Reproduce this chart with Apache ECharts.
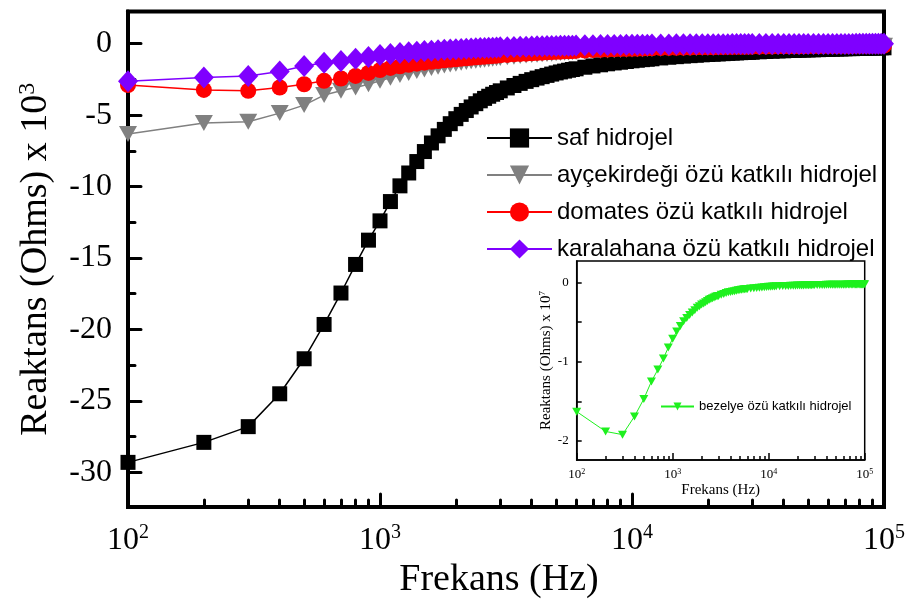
<!DOCTYPE html>
<html>
<head>
<meta charset="utf-8">
<script src="https://cdn.jsdelivr.net/npm/echarts@6/dist/echarts.min.js"></script>
<style>
html, body { margin: 0; padding: 0; background: #fff; }
#chart { width: 908px; height: 604px; }
</style>
</head>
<body>
<div id="chart"></div>
<script>
// Measurement frequencies (Hz)
const freqHz = [
  100, 200, 300, 400, 500, 600, 700, 800, 900, 1000,
  1100, 1200, 1300, 1400, 1500, 1600, 1700, 1800, 1900, 2000,
  2100, 2200, 2300, 2400, 2500, 2600, 2700, 2800, 2900, 3000,
  3200, 3400, 3600, 3800, 4000, 4200, 4400, 4600, 4800, 5000,
  5200, 5400, 5600, 5800, 6000,
  6500, 7000, 7500, 8000, 8500, 9000, 9500, 10000, 10500, 11000, 11500, 12000,
  13000, 14000, 15000, 16000, 17000, 18000, 19000, 20000, 21000, 22000, 23000, 24000, 25000, 26000, 27000, 28000, 29000, 30000,
  32000, 34000, 36000, 38000, 40000, 42000, 44000, 46000, 48000, 50000,
  52500, 55000, 57500, 60000, 62500, 65000, 67500, 70000, 72500, 75000, 77500, 80000, 82500, 85000, 87500, 90000, 92500, 95000, 97500, 100000
];

// Reactance, Ohms x 10^3
const safHidrojel = [
  -29.3, -27.9, -26.8, -24.5, -22.05, -19.65, -17.45, -15.45, -13.75, -12.4,
  -11.05, -9.95, -9.05, -8.25, -7.55, -6.95, -6.45, -6.0, -5.6, -5.25,
  -4.95, -4.68, -4.43, -4.2, -4.0, -3.83, -3.68, -3.54, -3.42, -3.3,
  -3.1, -2.93, -2.78, -2.64, -2.52, -2.41, -2.31, -2.22, -2.13, -2.05,
  -1.98, -1.92, -1.86, -1.81, -1.76,
  -1.65, -1.56, -1.48, -1.41, -1.35, -1.3, -1.25, -1.2, -1.16, -1.12, -1.09, -1.06,
  -1.0, -0.95, -0.91, -0.87, -0.84, -0.81, -0.78, -0.76, -0.74, -0.72, -0.7, -0.68, -0.66, -0.65, -0.63, -0.62, -0.61, -0.6,
  -0.57, -0.55, -0.53, -0.51, -0.5, -0.48, -0.47, -0.46, -0.45, -0.44,
  -0.43, -0.42, -0.41, -0.4, -0.39, -0.38, -0.37, -0.36, -0.35, -0.35, -0.34, -0.33, -0.33, -0.32, -0.31, -0.31, -0.3, -0.3, -0.29, -0.29
];
const aycekirdegi = [
  -6.33, -5.56, -5.47, -4.86, -4.3, -3.6, -3.3, -3.07, -2.84, -2.6,
  -2.38, -2.2, -2.05, -1.92, -1.8, -1.7, -1.61, -1.53, -1.46, -1.4,
  -1.34, -1.29, -1.24, -1.2, -1.16, -1.12, -1.09, -1.06, -1.03, -1.0,
  -0.95, -0.91, -0.87, -0.83, -0.8, -0.77, -0.74, -0.72, -0.7, -0.68,
  -0.66, -0.64, -0.62, -0.61, -0.59,
  -0.56, -0.53, -0.5, -0.48, -0.46, -0.44, -0.43, -0.41, -0.4, -0.39, -0.38, -0.37,
  -0.35, -0.34, -0.33, -0.32, -0.31, -0.3, -0.29, -0.28, -0.28, -0.27, -0.26, -0.26, -0.25, -0.25, -0.24, -0.24, -0.24, -0.23,
  -0.23, -0.22, -0.22, -0.21, -0.21, -0.2, -0.2, -0.2, -0.19, -0.19,
  -0.19, -0.18, -0.18, -0.18, -0.17, -0.17, -0.17, -0.17, -0.16, -0.16, -0.16, -0.16, -0.15, -0.15, -0.15, -0.15, -0.15, -0.14, -0.14, -0.14
];
const domates = [
  -2.9, -3.24, -3.3, -3.07, -2.84, -2.6, -2.44, -2.26, -2.05, -1.85,
  -1.7, -1.58, -1.48, -1.4, -1.33, -1.27, -1.22, -1.17, -1.13, -1.09,
  -1.05, -1.02, -0.99, -0.96, -0.93, -0.91, -0.88, -0.86, -0.84, -0.82,
  -0.79, -0.75, -0.72, -0.7, -0.67, -0.65, -0.63, -0.61, -0.59, -0.57,
  -0.56, -0.54, -0.53, -0.52, -0.5,
  -0.48, -0.45, -0.43, -0.41, -0.4, -0.38, -0.37, -0.36, -0.35, -0.34, -0.33, -0.32,
  -0.31, -0.3, -0.29, -0.28, -0.27, -0.26, -0.26, -0.25, -0.25, -0.24, -0.24, -0.23, -0.23, -0.22, -0.22, -0.22, -0.21, -0.21,
  -0.21, -0.2, -0.2, -0.19, -0.19, -0.19, -0.18, -0.18, -0.18, -0.17,
  -0.17, -0.17, -0.16, -0.16, -0.16, -0.16, -0.15, -0.15, -0.15, -0.15, -0.14, -0.14, -0.14, -0.14, -0.14, -0.13, -0.13, -0.13, -0.13, -0.13
];
const karalahana = [
  -2.63, -2.37, -2.26, -1.95, -1.56, -1.33, -1.21, -1.05, -0.93, -0.8,
  -0.72, -0.66, -0.6, -0.56, -0.52, -0.49, -0.46, -0.43, -0.41, -0.39,
  -0.37, -0.35, -0.34, -0.32, -0.31, -0.3, -0.29, -0.28, -0.27, -0.26,
  -0.25, -0.23, -0.22, -0.21, -0.2, -0.19, -0.18, -0.17, -0.17, -0.16,
  -0.15, -0.15, -0.14, -0.14, -0.13,
  -0.12, -0.11, -0.1, -0.1, -0.09, -0.09, -0.08, -0.08, -0.07, -0.07, -0.07, -0.06,
  -0.06, -0.06, -0.05, -0.05, -0.05, -0.05, -0.04, -0.04, -0.04, -0.04, -0.04, -0.04, -0.03, -0.03, -0.03, -0.03, -0.03, -0.03,
  -0.03, -0.03, -0.03, -0.03, -0.02, -0.02, -0.02, -0.02, -0.02, -0.02,
  -0.02, -0.02, -0.02, -0.02, -0.02, -0.02, -0.02, -0.02, -0.02, -0.02, -0.01, -0.01, -0.01, -0.01, -0.01, -0.01, -0.01, -0.01, -0.01, -0.01
];

// Reactance, Ohms x 10^7 (inset)
const bezelye = [
  -1.63, -1.88, -1.92, -1.69, -1.47, -1.25, -1.1, -0.96, -0.82, -0.71,
  -0.62, -0.55, -0.49, -0.45, -0.41, -0.38, -0.35, -0.32, -0.3, -0.28,
  -0.265, -0.25, -0.235, -0.22, -0.21, -0.2, -0.19, -0.18, -0.175, -0.17,
  -0.155, -0.145, -0.135, -0.125, -0.12, -0.115, -0.11, -0.105, -0.1, -0.097,
  -0.094, -0.09, -0.087, -0.085, -0.082,
  -0.077, -0.073, -0.069, -0.066, -0.063, -0.061, -0.058, -0.056, -0.054, -0.053, -0.051, -0.05,
  -0.048, -0.046, -0.045, -0.044, -0.043, -0.042, -0.041, -0.04, -0.039, -0.038, -0.038, -0.037, -0.036, -0.036, -0.035, -0.035, -0.034, -0.034,
  -0.033, -0.033, -0.032, -0.032, -0.031, -0.031, -0.03, -0.03, -0.03, -0.029,
  -0.029, -0.029, -0.028, -0.028, -0.028, -0.027, -0.027, -0.027, -0.027, -0.026, -0.026, -0.026, -0.026, -0.025, -0.025, -0.025, -0.025, -0.025, -0.024, -0.024
];

// Tick positions
const decadeTicks = [100, 1000, 10000, 100000];
const minorFreqTicks = [200, 300, 400, 500, 600, 700, 800, 900,
  2000, 3000, 4000, 5000, 6000, 7000, 8000, 9000,
  20000, 30000, 40000, 50000, 60000, 70000, 80000, 90000];
const mainYMajor = [-30, -25, -20, -15, -10, -5, 0];
const mainYMinor = [-27.5, -22.5, -17.5, -12.5, -7.5, -2.5];
const insetYLabels = [-2, -1, 0];
const insetYTicks = [-2, -1.5, -1, -0.5, 0];

const SERIF = 'Liberation Serif';
const SANS = 'Liberation Sans';
const downTriangle = 'path://M0,0L10,0L5,9Z';

function pairs(values) {
  return freqHz.map((f, i) => [f, values[i]]);
}
function powerLabel(v) {
  return '{b|10}{s|' + Math.round(Math.log10(v)) + '}';
}

const chart = echarts.init(document.getElementById('chart'), null, { renderer: 'canvas' });

const mainX = {
  type: 'log', logBase: 10, gridIndex: 0, min: 100, max: 100000, position: 'bottom',
  axisLine: { onZero: false, lineStyle: { color: '#000', width: 4 } },
  axisTick: { inside: true, length: 13, customValues: decadeTicks, lineStyle: { color: '#000', width: 3, cap: 'round' } },
  axisLabel: {
    margin: 16, customValues: decadeTicks, formatter: powerLabel, color: '#000',
    rich: {
      b: { fontSize: 32, fontFamily: SERIF, color: '#000', lineHeight: 34 },
      s: { fontSize: 20, fontFamily: SERIF, color: '#000', lineHeight: 20, verticalAlign: 'top' }
    }
  },
  splitLine: { show: false },
  name: 'Frekans (Hz)', nameLocation: 'middle', nameGap: 46,
  nameTextStyle: { fontFamily: SERIF, fontSize: 38, color: '#000', padding: [0, 14, 0, 0] }
};
const mainXMinor = {
  type: 'log', logBase: 10, gridIndex: 0, min: 100, max: 100000, position: 'bottom',
  axisLine: { show: false, onZero: false },
  axisTick: { inside: true, length: 7, customValues: minorFreqTicks, lineStyle: { color: '#000', width: 3, cap: 'round' } },
  axisLabel: { show: false },
  splitLine: { show: false }
};
const mainY = {
  type: 'value', gridIndex: 0, min: -32.43, max: 2.25, position: 'left',
  axisLine: { onZero: false, lineStyle: { color: '#000', width: 4 } },
  axisTick: { inside: true, length: 13, customValues: mainYMajor, lineStyle: { color: '#000', width: 3, cap: 'round' } },
  axisLabel: { margin: 16, customValues: mainYMajor, fontSize: 32, fontFamily: SERIF, color: '#000' },
  splitLine: { show: false },
  name: '{b|Reaktans (Ohms) x 10}{s|3}', nameLocation: 'middle', nameGap: 72,
  nameTextStyle: {
    rich: {
      b: { fontSize: 38, fontFamily: SERIF, color: '#000', lineHeight: 40 },
      s: { fontSize: 24, fontFamily: SERIF, color: '#000', lineHeight: 24, verticalAlign: 'top' }
    }
  }
};
const mainYMinorAxis = {
  type: 'value', gridIndex: 0, min: -32.43, max: 2.25, position: 'left',
  axisLine: { show: false, onZero: false },
  axisTick: { inside: true, length: 7, customValues: mainYMinor, lineStyle: { color: '#000', width: 3, cap: 'round' } },
  axisLabel: { show: false },
  splitLine: { show: false }
};

const insetX = {
  type: 'log', logBase: 10, gridIndex: 1, min: 100, max: 100000, position: 'bottom',
  axisLine: { onZero: false, lineStyle: { color: '#000', width: 1.5 } },
  axisTick: { inside: true, length: 7, customValues: decadeTicks, lineStyle: { color: '#000', width: 1.5 } },
  axisLabel: {
    margin: 8, customValues: decadeTicks, formatter: powerLabel, color: '#000',
    rich: {
      b: { fontSize: 13, fontFamily: SERIF, color: '#000', lineHeight: 14 },
      s: { fontSize: 8, fontFamily: SERIF, color: '#000', lineHeight: 8, verticalAlign: 'top' }
    }
  },
  splitLine: { show: false },
  name: 'Frekans (Hz)', nameLocation: 'middle', nameGap: 23,
  nameTextStyle: { fontFamily: SERIF, fontSize: 15, color: '#000' }
};
const insetXMinor = {
  type: 'log', logBase: 10, gridIndex: 1, min: 100, max: 100000, position: 'bottom',
  axisLine: { show: false, onZero: false },
  axisTick: { inside: true, length: 4, customValues: minorFreqTicks, lineStyle: { color: '#000', width: 1.5 } },
  axisLabel: { show: false },
  splitLine: { show: false }
};
const insetY = {
  type: 'value', gridIndex: 1, min: -2.24, max: 0.27, position: 'left',
  axisLine: { onZero: false, lineStyle: { color: '#000', width: 1.5 } },
  axisTick: { inside: true, length: 5, customValues: insetYTicks, lineStyle: { color: '#000', width: 1.5 } },
  axisLabel: { margin: 8, customValues: insetYLabels, fontSize: 13, fontFamily: SERIF, color: '#000' },
  splitLine: { show: false },
  name: '{b|Reaktans (Ohms) x 10}{s|7}', nameLocation: 'middle', nameGap: 21,
  nameTextStyle: {
    rich: {
      b: { fontSize: 15, fontFamily: SERIF, color: '#000', lineHeight: 16 },
      s: { fontSize: 9, fontFamily: SERIF, color: '#000', lineHeight: 9, verticalAlign: 'top' }
    }
  }
};

function lineSeries(name, values, color, symbol, size, xi, yi, width) {
  return {
    name: name, type: 'line', xAxisIndex: xi, yAxisIndex: yi,
    data: pairs(values),
    symbol: symbol, symbolSize: size, showSymbol: true, showAllSymbol: true,
    itemStyle: { color: color, borderWidth: 0 },
    lineStyle: { color: color, width: width },
    emphasis: { disabled: true },
    animation: false
  };
}

chart.setOption({
  animation: false,
  backgroundColor: '#fff',
  grid: [
    { left: 128, top: 11.5, width: 757, height: 497.5, show: true, borderColor: '#000', borderWidth: 4, backgroundColor: 'transparent' },
    { left: 576.7, top: 261, width: 288, height: 199, show: true, borderColor: '#000', borderWidth: 1.5, backgroundColor: '#fff' }
  ],
  xAxis: [mainX, mainXMinor, insetX, insetXMinor],
  yAxis: [mainY, mainYMinorAxis, insetY],
  legend: [
    {
      data: ['saf hidrojel', 'ayçekirdeği özü katkılı hidrojel', 'domates özü katkılı hidrojel', 'karalahana özü katkılı hidrojel'],
      orient: 'vertical', left: 481, top: 121, itemWidth: 65, itemHeight: 24, itemGap: 13,
      textStyle: { fontFamily: SANS, fontSize: 24, color: '#000' },
      selectedMode: false
    },
    {
      data: ['bezelye özü katkılı hidrojel'],
      orient: 'vertical', left: 655, top: 395, itemWidth: 33, itemHeight: 10,
      textStyle: { fontFamily: SANS, fontSize: 13, color: '#000' },
      selectedMode: false
    }
  ],
  series: [
    lineSeries('saf hidrojel', safHidrojel, '#000000', 'rect', 15, 0, 0, 1.5),
    lineSeries('ayçekirdeği özü katkılı hidrojel', aycekirdegi, '#808080', downTriangle, [18, 16], 0, 0, 1.5),
    lineSeries('domates özü katkılı hidrojel', domates, '#ff0000', 'circle', 16, 0, 0, 1.5),
    lineSeries('karalahana özü katkılı hidrojel', karalahana, '#7f00ff', 'diamond', [20, 22], 0, 0, 1.5),
    lineSeries('bezelye özü katkılı hidrojel', bezelye, '#1ef01e', downTriangle, [9, 8], 2, 2, 1)
  ]
});
</script>
</body>
</html>
